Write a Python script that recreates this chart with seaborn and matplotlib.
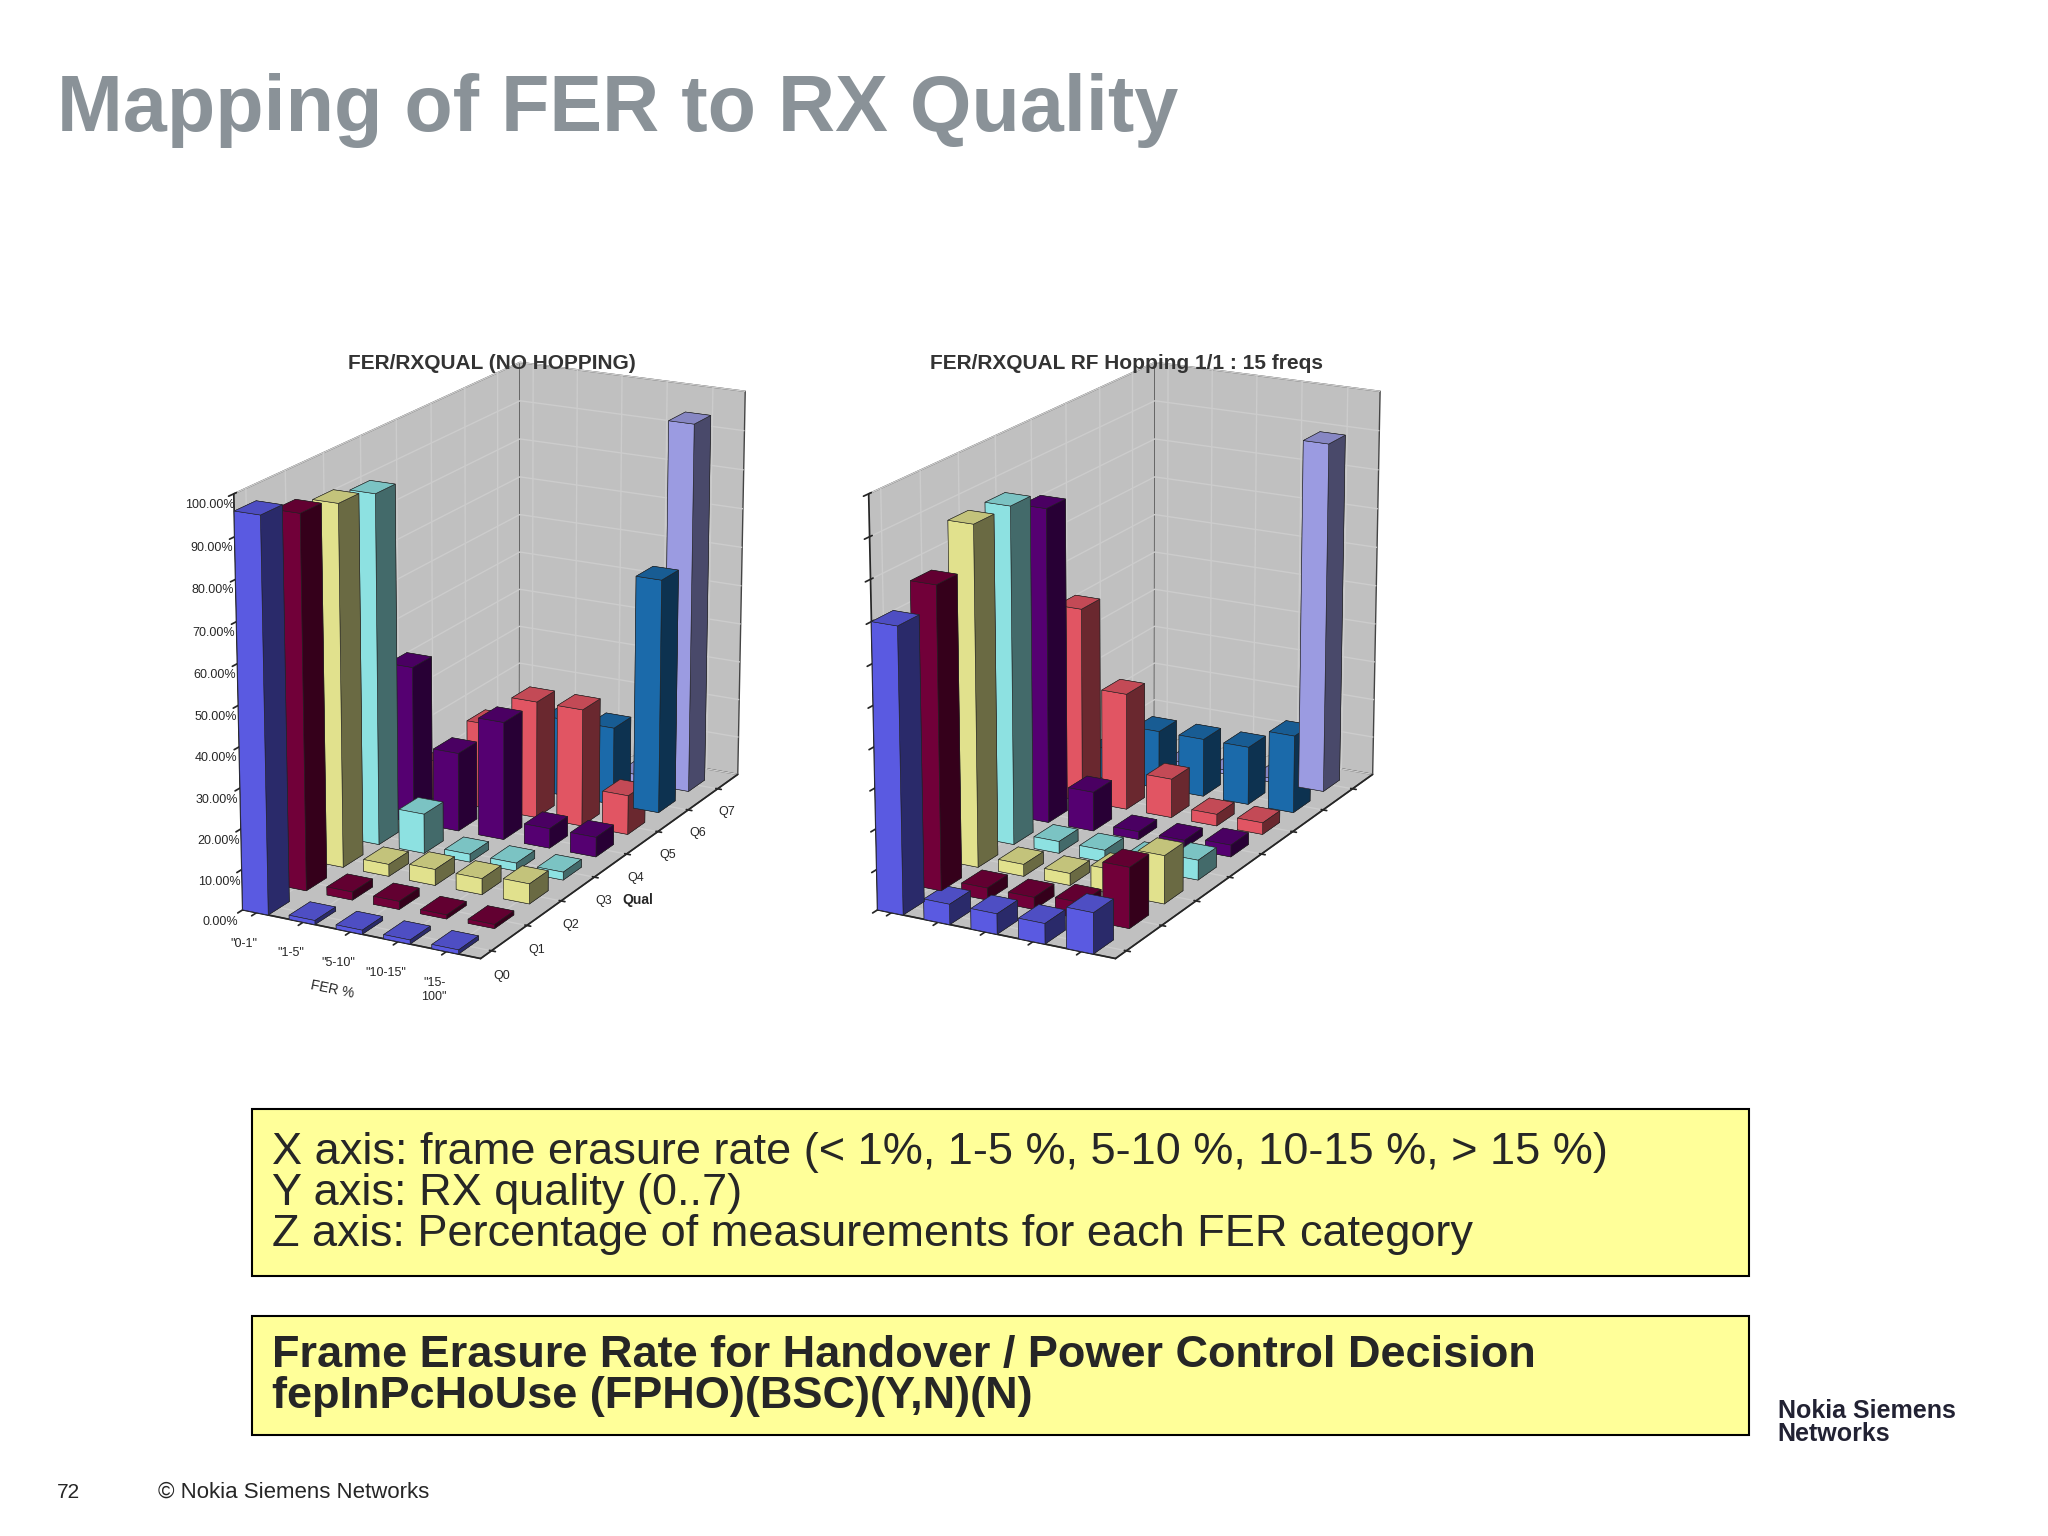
import numpy as np
import matplotlib
matplotlib.use("Agg")
import matplotlib.pyplot as plt
import seaborn as sns
from matplotlib.patches import Rectangle

sns.set_theme(style="white")
plt.rcParams['font.family'] = ['Liberation Sans', 'DejaVu Sans']

fer_labels = ['"0-1"', '"1-5"', '"5-10"', '"10-15"', '"15-\n100"']
qual_labels = ['Q0', 'Q1', 'Q2', 'Q3', 'Q4', 'Q5', 'Q6', 'Q7']
z_ticks = [0, 10, 20, 30, 40, 50, 60, 70, 80, 90, 100]
q_colors = ['#6666ff', '#800040', '#ffffa0', '#a0ffff', '#600080', '#ff6070', '#1f78c0', '#b0b0ff']

# rows: Q0..Q7, columns: FER categories
no_hop = [
    [96, 1, 1, 1, 1],
    [92, 2, 2, 1, 1],
    [90, 3, 4, 4, 5],
    [88, 10, 2, 2, 2],
    [40, 20, 30, 5, 5],
    [10, 22, 30, 30, 10],
    [2, 5, 20, 20, 60],
    [1, 1, 1, 2, 95],
]
hop = [
    [70, 5, 5, 5, 10],
    [75, 3, 3, 4, 15],
    [85, 3, 3, 6, 12],
    [85, 3, 3, 3, 5],
    [80, 10, 2, 2, 3],
    [50, 30, 10, 3, 3],
    [8, 15, 15, 15, 20],
    [1, 1, 1, 1, 90],
]

fig = plt.figure(figsize=(20.48, 15.36), dpi=100)
fig.patch.set_facecolor('white')
fig.text(0.028, 0.915, "Mapping of FER to RX Quality", fontsize=57, fontweight='bold', color='#8a9298')

def draw(rect, data, title, labels=True):
    ax = fig.add_axes(rect, projection='3d')
    arr = np.array(data, dtype=float)
    for q in range(8):
        for f in range(5):
            ax.bar3d(f, q, 0, 0.55, 0.55, arr[q, f], color=q_colors[q], edgecolor='#222222', linewidth=0.4, shade=True)
    ax.set_xlim(0, 5); ax.set_ylim(0, 8); ax.set_zlim(0, 100)
    ax.set_box_aspect((1, 2.2, 1.6))
    ax.view_init(elev=18, azim=-62)
    for pane in (ax.xaxis.pane, ax.yaxis.pane, ax.zaxis.pane):
        pane.set_facecolor('#c0c0c0'); pane.set_edgecolor('#444444'); pane.set_alpha(1)
    ax.set_xticks(np.arange(5) + 0.3)
    ax.set_yticks(np.arange(8) + 0.3)
    ax.set_zticks(z_ticks)
    ax.zaxis.set_ticks_position('lower')
    ax.zaxis.set_label_position('lower')
    if labels:
        ax.set_xticklabels(fer_labels, fontsize=9)
        ax.set_yticklabels(qual_labels, fontsize=9)
        ax.set_zticklabels([f"{v:.2f}%" for v in z_ticks], fontsize=9)
        ax.set_xlabel("FER %", fontsize=10)
        ax.set_ylabel("Qual", fontsize=10, fontweight='bold')
    else:
        ax.set_xticklabels([]); ax.set_yticklabels([]); ax.set_zticklabels([])
    ax.grid(True)
    ax.set_title(title, fontsize=15, fontweight='bold', color='#333333', y=0.95)
    return ax

draw([0.06, 0.25, 0.36, 0.65], no_hop, "FER/RXQUAL (NO HOPPING)")
draw([0.37, 0.25, 0.36, 0.65], hop, "FER/RXQUAL RF Hopping 1/1 : 15 freqs", labels=False)

fig.patches.append(Rectangle((0.123, 0.169), 0.731, 0.109, transform=fig.transFigure,
                             facecolor='#ffff99', edgecolor='black', linewidth=1.5))
fig.text(0.133, 0.223, "X axis: frame erasure rate (< 1%, 1-5 %, 5-10 %, 10-15 %, > 15 %)\n"
         "Y axis: RX quality (0..7)\nZ axis: Percentage of measurements for each FER category",
         fontsize=32.5, va='center', linespacing=1.0)
fig.patches.append(Rectangle((0.123, 0.066), 0.731, 0.077, transform=fig.transFigure,
                             facecolor='#ffff99', edgecolor='black', linewidth=1.5))
fig.text(0.133, 0.104, "Frame Erasure Rate for Handover / Power Control Decision\nfepInPcHoUse (FPHO)(BSC)(Y,N)(N)",
         fontsize=32.5, fontweight='bold', va='center', linespacing=1.0)
fig.text(0.028, 0.025, "72", fontsize=15)
fig.text(0.077, 0.025, "© Nokia Siemens Networks", fontsize=16)
fig.text(0.868, 0.062, "Nokia Siemens\nNetworks", fontsize=18, fontweight='bold', color='#222233', linespacing=0.95)

fig.savefig("out.png", dpi=100, facecolor='white')
